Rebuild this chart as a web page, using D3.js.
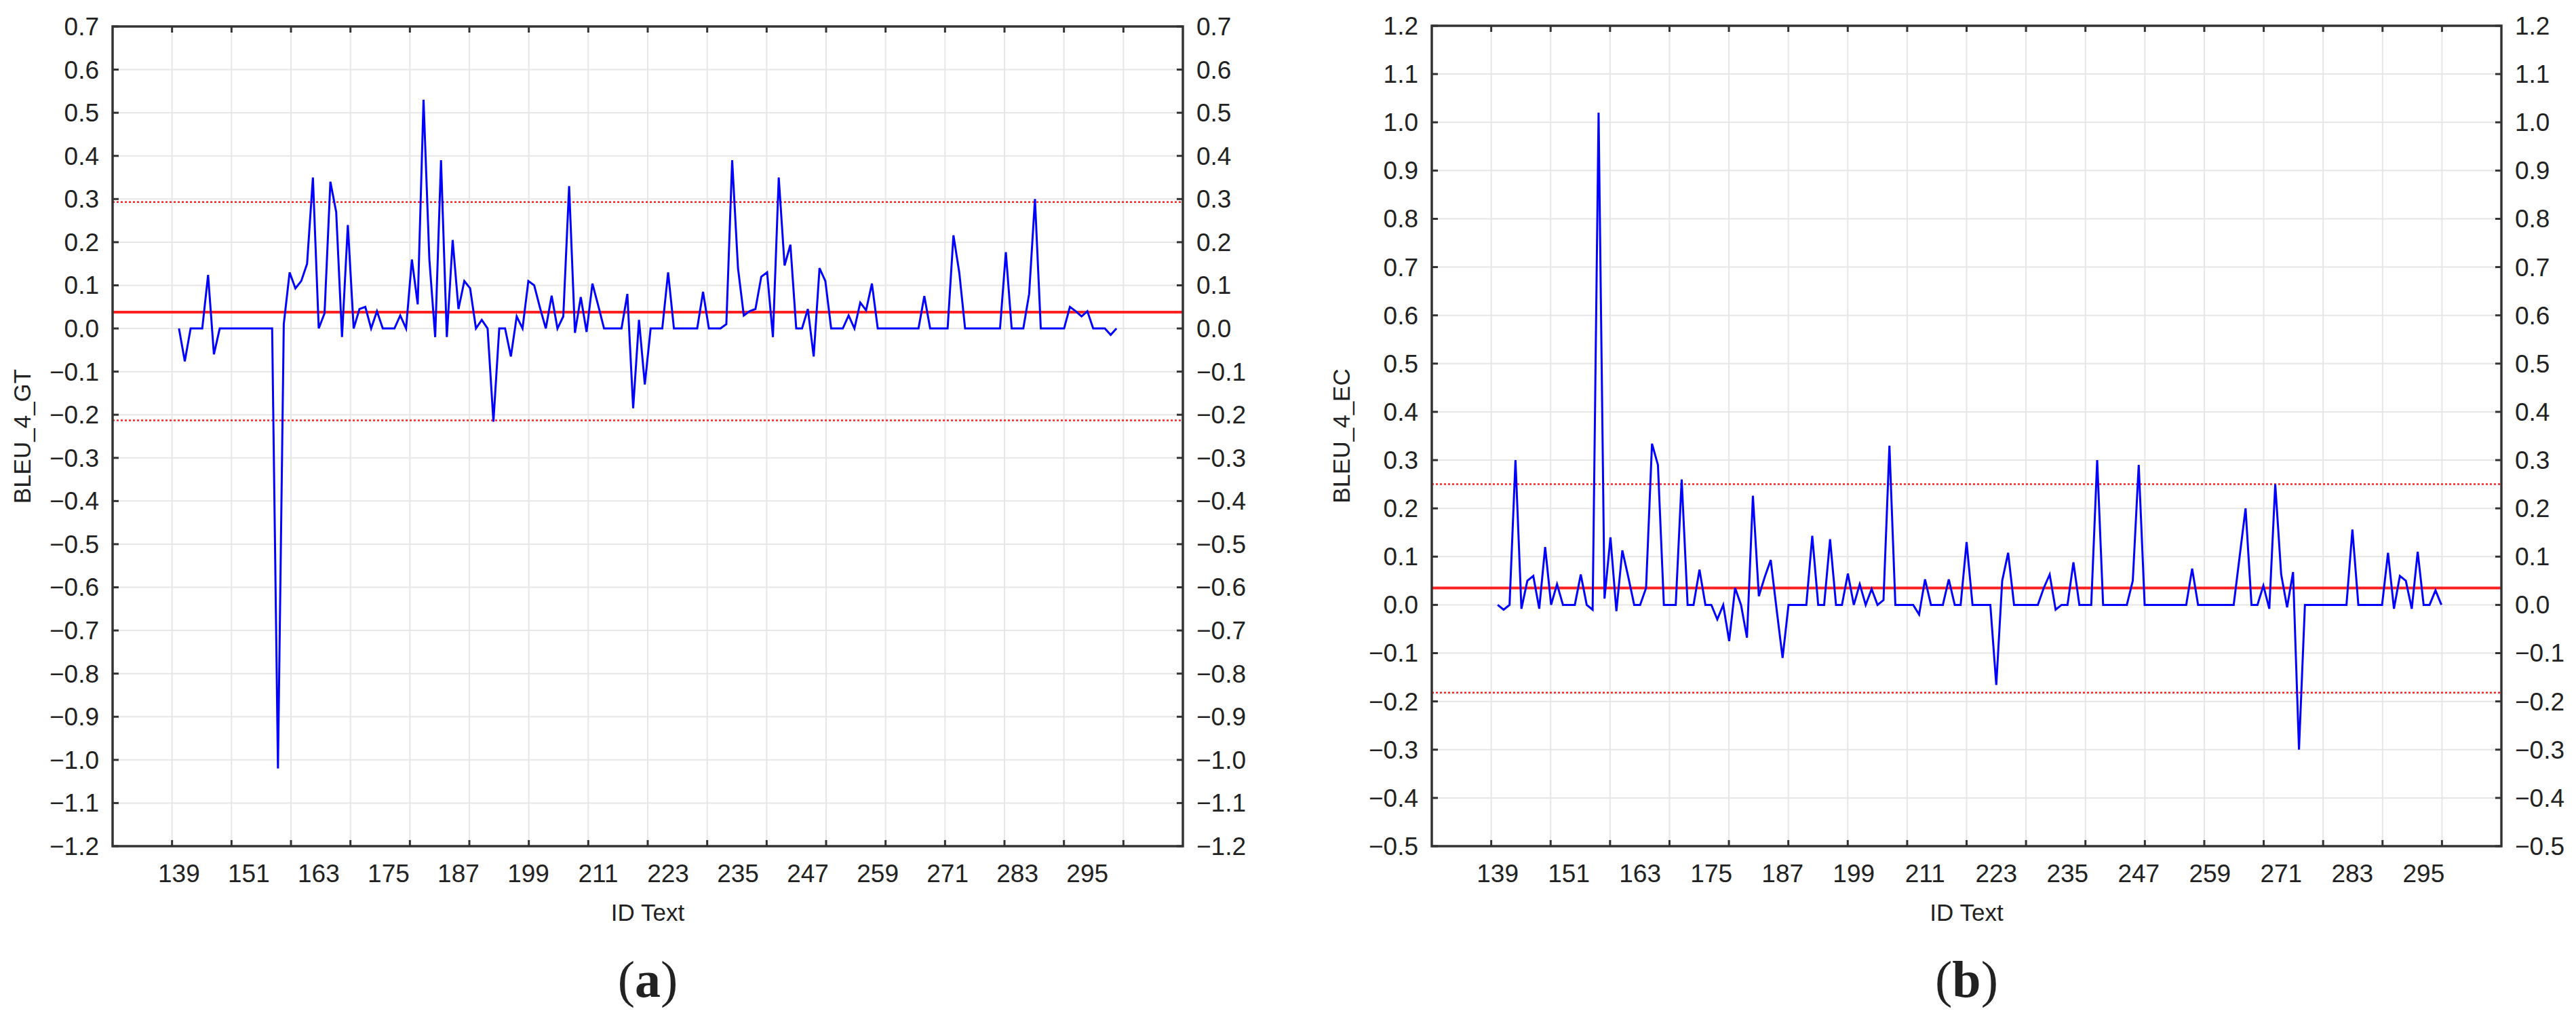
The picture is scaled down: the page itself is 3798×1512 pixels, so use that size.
<!DOCTYPE html>
<html>
<head>
<meta charset="utf-8">
<script src="https://cdn.jsdelivr.net/npm/d3@7"></script>
<style>
  body { margin: 0; background: #fff; }
  text { font-family: "Liberation Sans", Arial, sans-serif; fill: #222; }
</style>
</head>
<body>
<svg id="chart" width="3798" height="1512"></svg>
<script>
// ---- data ----
const firstId = 139;
const tickLabels = [139, 151, 163, 175, 187, 199, 211, 223, 235, 247, 259, 271, 283, 295];

const bleuGT = [
  0, -0.076, 0, 0, 0, 0.124, -0.06, 0, 0, 0,
  0, 0, 0, 0, 0, 0, 0, -1.02, 0.01, 0.13,
  0.093, 0.11, 0.15, 0.35, 0, 0.035, 0.34, 0.27, -0.02, 0.24,
  0, 0.045, 0.05, 0, 0.04, 0, 0, 0, 0.03, 0,
  0.16, 0.056, 0.53, 0.16, -0.02, 0.39, -0.02, 0.205, 0.045, 0.11,
  0.093, 0, 0.02, 0, -0.216, 0, 0, -0.065, 0.028, 0,
  0.11, 0.1, 0.048, 0, 0.076, 0, 0.028, 0.33, -0.01, 0.073,
  -0.008, 0.104, 0.053, 0, 0, 0, 0, 0.08, -0.185, 0.02,
  -0.13, 0, 0, 0, 0.13, 0, 0, 0, 0, 0,
  0.085, 0, 0, 0, 0.01, 0.39, 0.14, 0.03, 0.04, 0.045,
  0.12, 0.13, -0.02, 0.35, 0.146, 0.194, 0, 0, 0.045, -0.065,
  0.14, 0.11, 0, 0, 0, 0.03, 0, 0.06, 0.042, 0.104,
  0, 0, 0, 0, 0, 0, 0, 0, 0.075, 0,
  0, 0, 0, 0.216, 0.13, 0, 0, 0, 0, 0,
  0, 0, 0.177, 0, 0, 0, 0.08, 0.3, 0, 0,
  0, 0, 0, 0.05, 0.04, 0.028, 0.04, 0, 0, 0,
  -0.015, 0
];

const bleuEC = [
  0, -0.01, 0, 0.30, -0.008, 0.05, 0.06, -0.008, 0.12, 0,
  0.043, 0, 0, 0, 0.063, 0, -0.01, 1.02, 0.013, 0.14,
  -0.013, 0.113, 0.058, 0, 0, 0.035, 0.334, 0.29, 0, 0,
  0, 0.26, 0, 0, 0.073, 0, 0, -0.03, 0, -0.075,
  0.035, 0, -0.068, 0.226, 0.018, 0.058, 0.093, -0.01, -0.11, 0,
  0, 0, 0, 0.143, 0, 0, 0.136, 0, 0, 0.065,
  0, 0.043, 0, 0.033, 0, 0.01, 0.33, 0, 0, 0,
  0, -0.02, 0.053, 0, 0, 0, 0.053, 0, 0, 0.13,
  0, 0, 0, 0, -0.166, 0.05, 0.108, 0, 0, 0,
  0, 0, 0.035, 0.063, -0.01, 0, 0, 0.088, 0, 0,
  0, 0.3, 0, 0, 0, 0, 0, 0.05, 0.29, 0,
  0, 0, 0, 0, 0, 0, 0, 0.075, 0, 0,
  0, 0, 0, 0, 0, 0.1, 0.2, 0, 0, 0.04,
  -0.008, 0.25, 0.063, -0.005, 0.068, -0.3, 0, 0, 0, 0,
  0, 0, 0, 0, 0.156, 0, 0, 0, 0, 0,
  0.108, -0.008, 0.06, 0.05, -0.008, 0.11, 0, 0, 0.03, 0
];

const yTicksGT = d3.range(-12, 8).map(d => d / 10);
const yTicksEC = d3.range(-5, 13).map(d => d / 10);
const refGT = { mean: 0.038, upper: 0.293, lower: -0.213 };
const refEC = { mean: 0.035, upper: 0.25, lower: -0.182 };

const svg = d3.select("#chart");

function drawPanel(opt) {
  const { left, right, top, bottom, xDomain, yDomain, yTicks, values, ref, yLabel, tag } = opt;
  const x = d3.scaleLinear().domain(xDomain).range([left, right]);
  const y = d3.scaleLinear().domain(yDomain).range([bottom, top]);
  // evenly spaced grid divisions like the original software
  const grid = d3.scaleLinear().domain([0, 18]).range([left, right]);
  const g = svg.append("g");

  // grid
  g.selectAll(".vg").data(d3.range(1, 18)).enter().append("line")
    .attr("x1", d => grid(d)).attr("x2", d => grid(d))
    .attr("y1", top).attr("y2", bottom)
    .attr("stroke", "#e6e6e6").attr("stroke-width", 2);
  g.selectAll(".hg").data(yTicks.slice(1, -1)).enter().append("line")
    .attr("x1", left).attr("x2", right)
    .attr("y1", d => y(d)).attr("y2", d => y(d))
    .attr("stroke", "#e6e6e6").attr("stroke-width", 2);

  // reference lines
  [["upper", "3,3", 2.5], ["lower", "3,3", 2.5], ["mean", null, 4]].forEach(([k, dash, w]) => {
    g.append("line")
      .attr("x1", left).attr("x2", right)
      .attr("y1", y(ref[k])).attr("y2", y(ref[k]))
      .attr("stroke", "#ff2020").attr("stroke-width", w)
      .attr("stroke-dasharray", dash);
  });

  // series
  const line = d3.line().x((d, i) => x(firstId + i)).y(d => y(d));
  g.append("path").datum(values)
    .attr("d", line).attr("fill", "none")
    .attr("stroke", "#0000ff").attr("stroke-width", 3)
    .attr("stroke-linejoin", "miter");

  // frame
  g.append("rect").attr("x", left).attr("y", top)
    .attr("width", right - left).attr("height", bottom - top)
    .attr("fill", "none").attr("stroke", "#333").attr("stroke-width", 3.5);

  // inward ticks on all four sides
  const tl = 9;
  g.selectAll(".tb").data(d3.range(1, 18)).enter().append("line")
    .attr("x1", d => grid(d)).attr("x2", d => grid(d))
    .attr("y1", bottom).attr("y2", bottom - tl)
    .attr("stroke", "#333").attr("stroke-width", 3);
  g.selectAll(".tt").data(d3.range(1, 18)).enter().append("line")
    .attr("x1", d => grid(d)).attr("x2", d => grid(d))
    .attr("y1", top).attr("y2", top + tl)
    .attr("stroke", "#333").attr("stroke-width", 3);
  g.selectAll(".tl").data(yTicks).enter().append("line")
    .attr("x1", left).attr("x2", left + tl)
    .attr("y1", d => y(d)).attr("y2", d => y(d))
    .attr("stroke", "#333").attr("stroke-width", 3);
  g.selectAll(".tr").data(yTicks).enter().append("line")
    .attr("x1", right).attr("x2", right - tl)
    .attr("y1", d => y(d)).attr("y2", d => y(d))
    .attr("stroke", "#333").attr("stroke-width", 3);

  // labels
  const fmt = d3.format(".1f");
  g.selectAll(".yl").data(yTicks).enter().append("text")
    .attr("x", left - 20).attr("y", d => y(d)).attr("dy", "0.35em")
    .attr("text-anchor", "end").style("font-size", "37px").text(fmt);
  g.selectAll(".yr").data(yTicks).enter().append("text")
    .attr("x", right + 20).attr("y", d => y(d)).attr("dy", "0.35em")
    .attr("text-anchor", "start").style("font-size", "37px").text(fmt);
  g.selectAll(".xl").data(tickLabels).enter().append("text")
    .attr("x", d => x(d)).attr("y", bottom + 40).attr("dy", "0.35em")
    .attr("text-anchor", "middle").style("font-size", "37px").text(d => d);

  const cx = (left + right) / 2;
  g.append("text").attr("x", cx).attr("y", bottom + 98).attr("dy", "0.35em")
    .attr("text-anchor", "middle").style("font-size", "35px").text("ID Text");
  g.append("text")
    .attr("transform", `translate(${left - 133},${(top + bottom) / 2}) rotate(-90)`)
    .attr("dy", "0.35em").attr("text-anchor", "middle")
    .style("font-size", "35px").text(yLabel);

  const t = g.append("text").attr("x", cx).attr("y", bottom + 222)
    .attr("text-anchor", "middle")
    .style("font-family", "'Liberation Serif', serif").style("font-size", "76px");
  t.append("tspan").text("(");
  t.append("tspan").style("font-weight", "bold").text(tag);
  t.append("tspan").text(")");
}

drawPanel({
  left: 166, right: 1744, top: 39, bottom: 1247,
  xDomain: [127.6, 311.4], yDomain: [-1.2, 0.7], yTicks: yTicksGT,
  values: bleuGT, ref: refGT, yLabel: "BLEU_4_GT", tag: "a"
});
drawPanel({
  left: 2111, right: 3688, top: 38, bottom: 1247,
  xDomain: [127.9, 308.1], yDomain: [-0.5, 1.2], yTicks: yTicksEC,
  values: bleuEC, ref: refEC, yLabel: "BLEU_4_EC", tag: "b"
});
</script>
</body>
</html>
